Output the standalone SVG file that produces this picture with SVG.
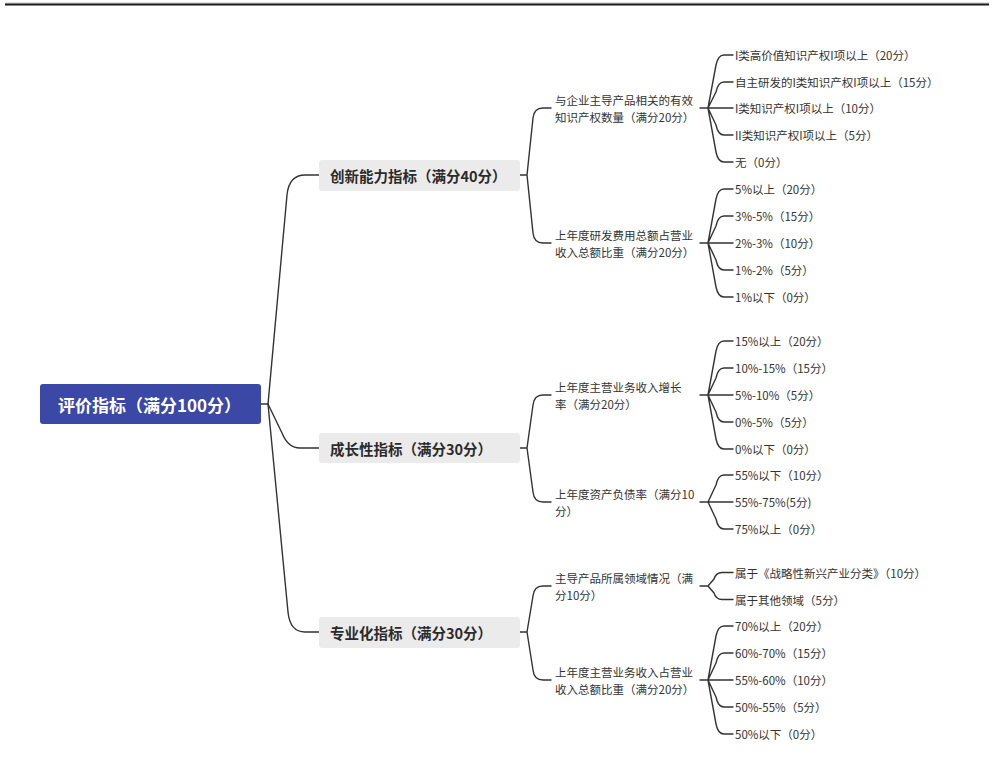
<svg xmlns="http://www.w3.org/2000/svg" width="994" height="783" viewBox="0 0 994 783">
<style>
text{font-family:"Noto Sans CJK SC","Noto Sans",sans-serif;fill:#333}
.root{fill:#fff;font-size:17px;font-weight:bold}
.l1{font-size:14.5px;font-weight:bold;fill:#2b2b2b}
.l2,.l3{font-size:11.5px}
.c{fill:none;stroke:#333;stroke-width:1.4;stroke-linecap:round;stroke-linejoin:round}
</style>
<rect width="994" height="783" fill="#fff"/>
<line x1="5" y1="3" x2="989" y2="3" stroke="#c8c8c8" stroke-width="1"/>
<line x1="5" y1="4.5" x2="989" y2="4.5" stroke="#1a1a1a" stroke-width="2"/>
<g id="connectors" class="c">
<path d="M261,404 L268,404"/>
<path d="M268,404 L287,195 Q289,175 305,175 L319,175"/>
<path d="M268,404 L282,433 Q288,448 300,448 L319,448"/>
<path d="M268,404 L288,612 Q290,632 305,632 L319,632"/>
<path d="M520,175 L527,175 M527,175 L533,118 Q534,108 543,108 L551,108 M527,175 L533,233 Q534,243 543,243 L551,243"/>
<path d="M520,448 L527,448 M527,448 L533,405 Q534,395 543,395 L551,395 M527,448 L533,492 Q534,502 543,502 L551,502"/>
<path d="M520,632 L527,632 M527,632 L533,596 Q534,586 543,586 L551,586 M527,632 L533,670 Q534,680 543,680 L551,680"/>
<path d="M700,108 L733,108 M708,108 L716,65 Q718,55 724,55 L733,55 M708,108 L716,92 Q718,82 724,82 L733,82 M708,108 L716,125 Q718,135 724,135 L733,135 M708,108 L716,152 Q718,162 724,162 L733,162"/>
<path d="M700,243 L733,243 M708,243 L716,199 Q718,189 724,189 L733,189 M708,243 L716,226 Q718,216 724,216 L733,216 M708,243 L716,260 Q718,270 724,270 L733,270 M708,243 L716,287 Q718,297 724,297 L733,297"/>
<path d="M700,395 L733,395 M708,395 L716,351 Q718,341 724,341 L733,341 M708,395 L716,378 Q718,368 724,368 L733,368 M708,395 L716,412 Q718,422 724,422 L733,422 M708,395 L716,439 Q718,449 724,449 L733,449"/>
<path d="M700,502 L733,502 M708,502 L716,485 Q718,475 724,475 L733,475 M708,502 L716,519 Q718,529 724,529 L733,529"/>
<path d="M700,586 L708,586 M708,586 L714,579 Q716,572.5 722,572.5 L733,572.5 M708,586 L714,593 Q716,599.5 722,599.5 L733,599.5"/>
<path d="M700,680 L733,680 M708,680 L716,636 Q718,626 724,626 L733,626 M708,680 L716,663 Q718,653 724,653 L733,653 M708,680 L716,697 Q718,707 724,707 L733,707 M708,680 L716,724 Q718,734 724,734 L733,734"/>
</g>
<g id="root">
<rect x="40" y="384" width="221" height="40" rx="3" fill="#3b48a6"/>
<text class="root" x="58" y="404" dominant-baseline="central">评价指标（满分100分）</text>
</g>
<g id="n1">
<rect x="319" y="160" width="201" height="31" rx="3" fill="#ebebeb"/>
<text class="l1" x="330" y="175.5" dominant-baseline="central">创新能力指标（满分40分）</text>
</g>
<g id="n2">
<rect x="319" y="433" width="201" height="30" rx="3" fill="#ebebeb"/>
<text class="l1" x="330" y="448" dominant-baseline="central">成长性指标（满分30分）</text>
</g>
<g id="n3">
<rect x="319" y="617" width="201" height="31" rx="3" fill="#ebebeb"/>
<text class="l1" x="330" y="632.5" dominant-baseline="central">专业化指标（满分30分）</text>
</g>
<g id="n1a"><text class="l2" dominant-baseline="central"><tspan x="555" y="99.5">与企业主导产品相关的有效</tspan><tspan x="555" y="116.5">知识产权数量（满分20分）</tspan></text></g>
<g id="n1b"><text class="l2" dominant-baseline="central"><tspan x="555" y="234.5">上年度研发费用总额占营业</tspan><tspan x="555" y="251.5">收入总额比重（满分20分）</tspan></text></g>
<g id="n2a"><text class="l2" dominant-baseline="central"><tspan x="555" y="386.5">上年度主营业务收入增长</tspan><tspan x="555" y="403.5">率（满分20分）</tspan></text></g>
<g id="n2b"><text class="l2" dominant-baseline="central"><tspan x="555" y="493.5">上年度资产负债率（满分10</tspan><tspan x="555" y="510.5">分）</tspan></text></g>
<g id="n3a"><text class="l2" dominant-baseline="central"><tspan x="555" y="577.5">主导产品所属领域情况（满</tspan><tspan x="555" y="594.5">分10分）</tspan></text></g>
<g id="n3b"><text class="l2" dominant-baseline="central"><tspan x="555" y="671.5">上年度主营业务收入占营业</tspan><tspan x="555" y="688.5">收入总额比重（满分20分）</tspan></text></g>
<g id="leaves1">
<text class="l3" x="735" y="55" dominant-baseline="central">I类高价值知识产权I项以上（20分）</text>
<text class="l3" x="735" y="82" dominant-baseline="central">自主研发的I类知识产权I项以上（15分）</text>
<text class="l3" x="735" y="108" dominant-baseline="central">I类知识产权I项以上（10分）</text>
<text class="l3" x="735" y="135" dominant-baseline="central">II类知识产权I项以上（5分）</text>
<text class="l3" x="735" y="162" dominant-baseline="central">无（0分）</text>
</g>
<g id="leaves2">
<text class="l3" x="735" y="189" dominant-baseline="central">5%以上（20分）</text>
<text class="l3" x="735" y="216" dominant-baseline="central">3%-5%（15分）</text>
<text class="l3" x="735" y="243" dominant-baseline="central">2%-3%（10分）</text>
<text class="l3" x="735" y="270" dominant-baseline="central">1%-2%（5分）</text>
<text class="l3" x="735" y="297" dominant-baseline="central">1%以下（0分）</text>
</g>
<g id="leaves3">
<text class="l3" x="735" y="341" dominant-baseline="central">15%以上（20分）</text>
<text class="l3" x="735" y="368" dominant-baseline="central">10%-15%（15分）</text>
<text class="l3" x="735" y="395" dominant-baseline="central">5%-10%（5分）</text>
<text class="l3" x="735" y="422" dominant-baseline="central">0%-5%（5分）</text>
<text class="l3" x="735" y="449" dominant-baseline="central">0%以下（0分）</text>
</g>
<g id="leaves4">
<text class="l3" x="735" y="475" dominant-baseline="central">55%以下（10分）</text>
<text class="l3" x="735" y="502" dominant-baseline="central">55%-75%(5分)</text>
<text class="l3" x="735" y="529" dominant-baseline="central">75%以上（0分）</text>
</g>
<g id="leaves5">
<text class="l3" x="735" y="572.5" dominant-baseline="central">属于《战略性新兴产业分类》（10分）</text>
<text class="l3" x="735" y="599.5" dominant-baseline="central">属于其他领域（5分）</text>
</g>
<g id="leaves6">
<text class="l3" x="735" y="626" dominant-baseline="central">70%以上（20分）</text>
<text class="l3" x="735" y="653" dominant-baseline="central">60%-70%（15分）</text>
<text class="l3" x="735" y="680" dominant-baseline="central">55%-60%（10分）</text>
<text class="l3" x="735" y="707" dominant-baseline="central">50%-55%（5分）</text>
<text class="l3" x="735" y="734" dominant-baseline="central">50%以下（0分）</text>
</g>
</svg>
